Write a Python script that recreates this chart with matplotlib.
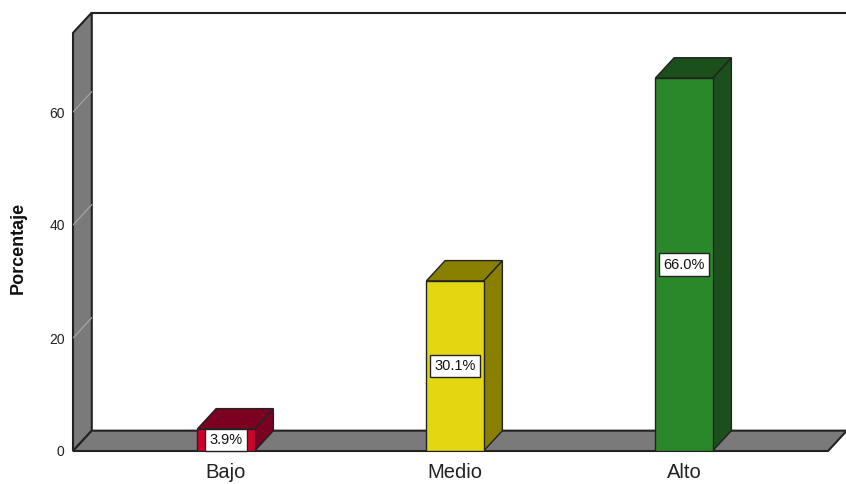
import matplotlib
matplotlib.use('Agg')
import matplotlib.pyplot as plt
from matplotlib.patches import Polygon, Rectangle

# ── data ──────────────────────────────────────────────────────────────────────
categories = ['Bajo', 'Medio', 'Alto']
percentages = [3.9, 30.1, 66.0]
y_ticks = [0, 20, 40, 60]

front_colors = ['#D4002C', '#E3D712', '#2A872A']
shade_colors = ['#7C0020', '#8A8000', '#1B4F1B']

# ── layout (3D look as in SPSS) ───────────────────────────────────────────────
BAR_W = 0.25        # bar width in category units
DX, DY = 0.082, 3.6 # depth offset (category units, percent units)
WALL_TOP = 74.0
X_LEFT = -0.668
X_FLOOR_END = 2.629
EDGE = '#222222'
WALL = '#7A7A7A'

plt.rcParams['font.family'] = ['Liberation Sans', 'DejaVu Sans']

fig = plt.figure(figsize=(8.46, 4.84), dpi=100)
ax = fig.add_axes([73 / 846, 33 / 484, 773 / 846, 451 / 484])
ax.set_xlim(X_LEFT, X_LEFT + 773 / 229)
ax.set_ylim(0, 451 / 5.65)
for s in ax.spines.values():
    s.set_visible(False)

# left wall
ax.add_patch(Polygon([(X_LEFT, 0), (X_LEFT + DX, DY), (X_LEFT + DX, WALL_TOP + DY),
                      (X_LEFT, WALL_TOP)], closed=True, facecolor=WALL,
                     edgecolor=EDGE, linewidth=1.5, clip_on=False, zorder=1))
# floor
ax.add_patch(Polygon([(X_LEFT, 0), (X_LEFT + DX, DY), (X_FLOOR_END + DX, DY),
                      (X_FLOOR_END, 0)], closed=True, facecolor=WALL,
                     edgecolor=EDGE, linewidth=1.5, clip_on=False, zorder=1))
# back wall outline
ax.plot([X_LEFT + DX, X_LEFT + 773 / 229], [WALL_TOP + DY, WALL_TOP + DY],
        color=EDGE, linewidth=1.5, clip_on=False, zorder=1)

# wall grid lines
for t in y_ticks[1:]:
    ax.plot([X_LEFT, X_LEFT + DX], [t, t + DY], color='#A8A8A8',
            linewidth=0.8, zorder=2)

# bars
for i, (v, fc, sc) in enumerate(zip(percentages, front_colors, shade_colors)):
    l, r = i - BAR_W / 2, i + BAR_W / 2
    ax.add_patch(Polygon([(r, 0), (r + DX, DY), (r + DX, v + DY), (r, v)],
                         closed=True, facecolor=sc, edgecolor=EDGE,
                         linewidth=1.0, zorder=3))
    ax.add_patch(Polygon([(l, v), (l + DX, v + DY), (r + DX, v + DY), (r, v)],
                         closed=True, facecolor=sc, edgecolor=EDGE,
                         linewidth=1.0, zorder=3))
    ax.add_patch(Rectangle((l, 0), BAR_W, v, facecolor=fc, edgecolor=EDGE,
                           linewidth=1.0, zorder=4))
    ax.text(i, v / 2, f'{v:.1f}%', ha='center', va='center', fontsize=10.5,
            color='#111111', zorder=5,
            bbox=dict(boxstyle='square,pad=0.28', facecolor='white',
                      edgecolor='#222222', linewidth=1.0))

ax.set_xticks(range(len(categories)))
ax.set_xticklabels(categories, fontsize=14.5, color='#222222')
ax.set_yticks(y_ticks)
ax.set_yticklabels([str(t) for t in y_ticks], fontsize=10, color='#222222')
ax.tick_params(axis='both', length=0)
ax.tick_params(axis='y', pad=6)
ax.tick_params(axis='x', pad=9)

fig.text(18 / 846, 1 - 248 / 484, 'Porcentaje', rotation=90, ha='center',
         va='center', fontsize=13, fontweight='bold', color='#111111')

fig.savefig('out.png', dpi=100, facecolor='white')
